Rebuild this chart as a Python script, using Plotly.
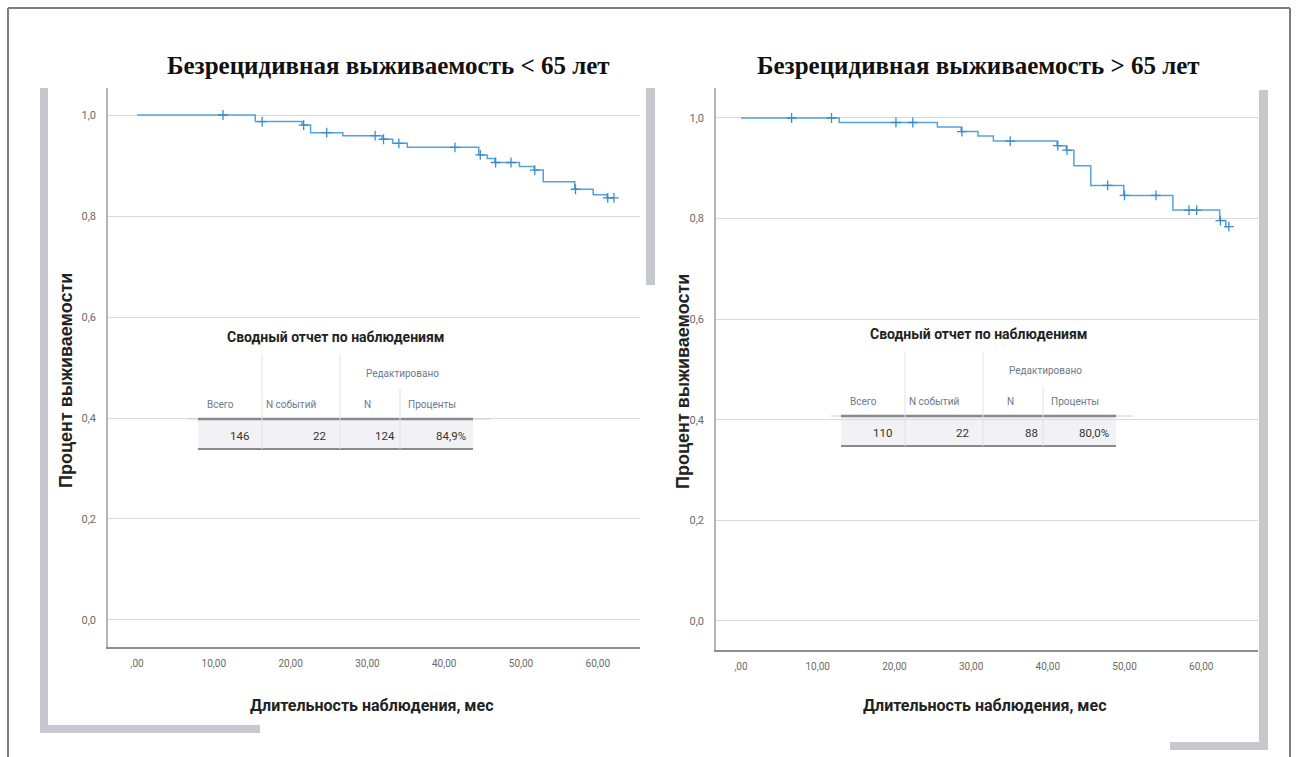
import numpy as np
import plotly.graph_objects as go

# ---------------- data ----------------
x_tick_vals = [0, 10, 20, 30, 40, 50, 60]
x_tick_text = [",00", "10,00", "20,00", "30,00", "40,00", "50,00", "60,00"]
y_tick_vals = [0.0, 0.2, 0.4, 0.6, 0.8, 1.0]
y_tick_text = ["0,0", "0,2", "0,4", "0,6", "0,8", "1,0"]

titles = ["Безрецидивная выживаемость < 65 лет", "Безрецидивная выживаемость > 65 лет"]
x_title = "Длительность наблюдения, мес"
y_title = "Процент выживаемости"
table_title = "Сводный отчет по наблюдениям"
table_group = "Редактировано"
table_headers = ["Всего", "N событий", "N", "Проценты"]
left_table_values = ["146", "22", "124", "84,9%"]
right_table_values = ["110", "22", "88", "80,0%"]

# < 65: event times (months) and survival after each event
left_event_t = [15.4, 21.5, 22.6, 26.8, 31.9, 33.3, 35.2, 44.5, 45.6, 46.6, 49.8, 51.7, 52.9, 57.0, 59.4, 61.2]
left_surv = [0.987, 0.980, 0.965, 0.959, 0.952, 0.944, 0.936, 0.921, 0.914, 0.906, 0.898, 0.891, 0.868, 0.853, 0.842, 0.836]
left_censor_t = [11.2, 16.3, 21.7, 24.7, 31.0, 32.1, 34.1, 41.4, 44.7, 46.7, 48.7, 51.8, 57.1, 61.3, 62.1]

# > 65
right_event_t = [12.8, 25.6, 28.7, 30.9, 32.9, 41.2, 42.4, 43.4, 45.6, 49.9, 56.3, 62.4, 63.2]
right_surv = [0.991, 0.982, 0.973, 0.964, 0.954, 0.945, 0.936, 0.905, 0.866, 0.846, 0.817, 0.796, 0.784]
right_censor_t = [6.6, 11.8, 20.2, 22.4, 28.8, 35.1, 41.3, 42.5, 47.8, 50.0, 54.1, 58.4, 59.4, 62.5, 63.6]

# ---------------- helpers ----------------
W, H = 1298, 757
def px(x):
    return x / W
def py(y):
    return 1 - y / H

LINE_COLOR = "#55a3dc"
MARK_COLOR = "#3a8dcc"
NARROW = "Liberation Sans Narrow, Arial Narrow, Roboto, sans-serif"
SANS = "Liberation Sans, Arial, sans-serif"
SERIF = "Liberation Serif, Times New Roman, serif"

def km_traces(ev_t, surv, cens_t, xa, ya):
    ev_t = np.asarray(ev_t, float)
    surv = np.asarray(surv, float)
    cens_t = np.asarray(cens_t, float)
    end_t = max(cens_t.max(), ev_t.max())
    xs = np.concatenate([[0.0], ev_t, [end_t]])
    ys = np.concatenate([[1.0], surv, [surv[-1]]])
    idx = np.searchsorted(ev_t, cens_t, side="right") - 1
    cy = np.where(idx >= 0, surv[np.clip(idx, 0, None)], 1.0)
    line = go.Scatter(x=xs, y=ys, mode="lines", line=dict(color=LINE_COLOR, width=1.5, shape="hv"),
                      xaxis=xa, yaxis=ya, showlegend=False, hoverinfo="skip")
    marks = go.Scatter(x=cens_t, y=cy, mode="markers",
                       marker=dict(symbol="cross-thin", size=7, line=dict(color=MARK_COLOR, width=1.3)),
                       xaxis=xa, yaxis=ya, showlegend=False)
    return [line, marks]

fig = go.Figure()
for t in km_traces(left_event_t, left_surv, left_censor_t, "x", "y"):
    fig.add_trace(t)
for t in km_traces(right_event_t, right_surv, right_censor_t, "x2", "y2"):
    fig.add_trace(t)

axis_common_x = dict(tickvals=x_tick_vals, ticktext=x_tick_text, showgrid=False, zeroline=False,
                     showline=True, linecolor="#8f8f8f", linewidth=2, ticks="",
                     tickfont=dict(family=NARROW, size=10, color="#6a6a6a"), ticklabelstandoff=6,
                     fixedrange=True)
axis_common_y = dict(tickvals=y_tick_vals, ticktext=y_tick_text, showgrid=True, gridcolor="#d9d9d9",
                     gridwidth=1, zeroline=False, showline=True, linecolor="#b5b5b5", linewidth=1.5,
                     ticks="", tickfont=dict(family=NARROW, size=11, color="#6a6a6a"),
                     ticklabelstandoff=8, fixedrange=True)

fig.update_layout(
    width=W, height=H, margin=dict(l=0, r=0, t=0, b=0),
    paper_bgcolor="white", plot_bgcolor="white",
    xaxis=dict(domain=[px(108), px(640)], range=[-3.78, 65.5], anchor="y", **axis_common_x),
    yaxis=dict(domain=[py(647), py(88)], range=[-0.0535, 1.0535], anchor="x", **axis_common_y),
    xaxis2=dict(domain=[px(716), px(1258)], range=[-3.26, 67.4], anchor="y2", **axis_common_x),
    yaxis2=dict(domain=[py(650), py(88)], range=[-0.0577, 1.0596], anchor="x2", **axis_common_y),
)

shapes = []
ann = []

def rect(x0, y0, x1, y1, color):
    shapes.append(dict(type="rect", xref="paper", yref="paper", x0=px(x0), x1=px(x1), y0=py(y1), y1=py(y0),
                       fillcolor=color, line=dict(width=0), layer="below"))

def hline(x0, x1, y, color, width):
    shapes.append(dict(type="line", xref="paper", yref="paper", x0=px(x0), x1=px(x1), y0=py(y), y1=py(y),
                       line=dict(color=color, width=width)))

def vline(x, y0, y1, color, width):
    shapes.append(dict(type="line", xref="paper", yref="paper", x0=px(x), x1=px(x), y0=py(y0), y1=py(y1),
                       line=dict(color=color, width=width)))

def text(x, y, s, font, xanchor="center", yanchor="middle", angle=0):
    ann.append(dict(x=px(x), y=py(y), xref="paper", yref="paper", text=s, showarrow=False,
                    xanchor=xanchor, yanchor=yanchor, font=font, textangle=angle))

# outer frame
hline(8, 1290, 8, "#7d7d7d", 2)
vline(8, 8, 757, "#7d7d7d", 2)
vline(1290, 8, 757, "#7d7d7d", 2)

# decorative grey bars
BAR = "#c7c8cd"
rect(40, 88, 48, 733, BAR)
rect(40, 725, 260, 733, BAR)
rect(646, 88, 655, 285, BAR)
rect(1259, 90, 1268, 750, BAR)
rect(1170, 742, 1268, 750, BAR)

# titles
for cx, s in zip([388, 978], titles):
    text(cx, 66, "<b>" + s + "</b>", dict(family=SERIF, size=25, color="#111111"))

# axis titles
for cx in [372, 984]:
    text(cx, 705, "<b>" + x_title + "</b>", dict(family=NARROW, size=16, color="#222222"))
for cx in [66, 683]:
    text(cx, 381, "<b>" + y_title + "</b>", dict(family=SANS, size=18, color="#222222"), angle=-90)

# summary tables
def table(x_left, y_top, values):
    # column layout relative to table left edge (pixels)
    col_centers = [22, 93, 169, 234]
    col_rights = [53, 130, 199, 270]
    sep = [64, 142, 202]
    width = 275
    hdr_font = dict(family=NARROW, size=10, color="#6c7a8e")
    val_font = dict(family=NARROW, size=11.5, color="#333333")
    text(x_left + 137, y_top, "<b>" + table_title + "</b>", dict(family=NARROW, size=14, color="#222222"))
    text(x_left + 204, y_top + 37, table_group, hdr_font)
    for c, h in zip(col_centers, table_headers):
        text(x_left + c, y_top + 67, h, hdr_font)
    rect(x_left, y_top + 82, x_left + width, y_top + 112, "#f2f2f6")
    for r, v in zip(col_rights, values):
        text(x_left + r, y_top + 99, v, val_font, xanchor="right")
    hline(x_left - 10, x_left, y_top + 82, "#d0d0d0", 1)
    hline(x_left + width, x_left + width + 17, y_top + 82, "#d0d0d0", 1)
    hline(x_left, x_left + width, y_top + 82, "#8a8a8a", 2.5)
    hline(x_left, x_left + width, y_top + 112, "#8a8a8a", 2)
    vline(x_left + sep[0], y_top + 18, y_top + 112, "#e2e2e2", 1)
    vline(x_left + sep[1], y_top + 18, y_top + 112, "#e2e2e2", 1)
    vline(x_left + sep[2], y_top + 52, y_top + 112, "#e2e2e2", 1)

table(198, 337, left_table_values)
table(841, 334, right_table_values)

fig.update_layout(shapes=shapes, annotations=ann)

fig.write_html("out.html", config={"displayModeBar": False},
               post_script="document.body.style.margin='0';document.body.style.overflow='hidden';")
